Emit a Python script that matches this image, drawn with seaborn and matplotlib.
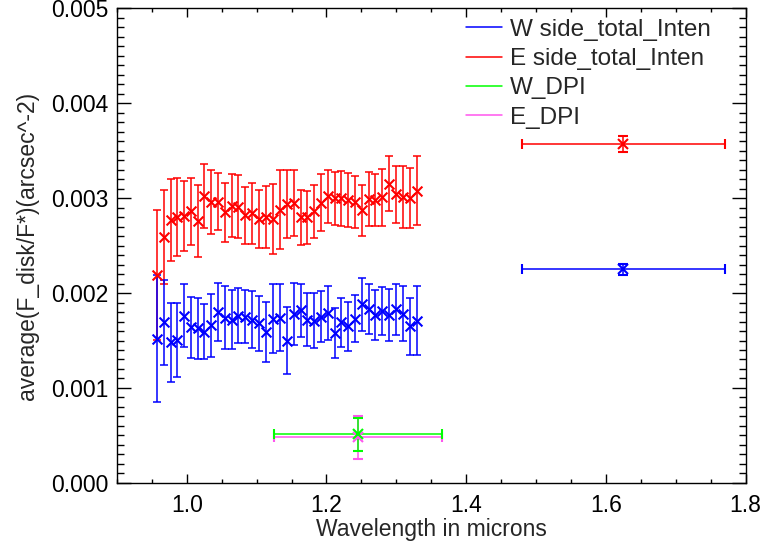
import matplotlib
matplotlib.use("Agg")
import matplotlib.pyplot as plt
from matplotlib.lines import Line2D
from matplotlib.ticker import MultipleLocator, FormatStrFormatter
import pandas as pd
import seaborn as sns

# IFS channels (microns)
wave = [0.957, 0.967, 0.977, 0.986, 0.996, 1.006, 1.016, 1.025, 1.035, 1.045,
        1.055, 1.065, 1.074, 1.084, 1.094, 1.104, 1.114, 1.123, 1.133, 1.143,
        1.153, 1.163, 1.172, 1.182, 1.192, 1.202, 1.212, 1.221, 1.231, 1.241,
        1.251, 1.261, 1.270, 1.280, 1.290, 1.300, 1.310, 1.319, 1.329]

# E side total intensity
e_flux = [0.00219, 0.00259, 0.00277, 0.00280, 0.00281, 0.00286, 0.00276, 0.00302, 0.00296, 0.00296,
          0.00285, 0.00292, 0.00291, 0.00282, 0.00284, 0.00278, 0.00280, 0.00278, 0.00288, 0.00294,
          0.00295, 0.00280, 0.00280, 0.00286, 0.00295, 0.00302, 0.00300, 0.00300, 0.00298, 0.00296,
          0.00287, 0.00299, 0.00298, 0.00301, 0.00315, 0.00304, 0.00301, 0.00300, 0.00308]
e_err = [0.00068, 0.00050, 0.00043, 0.00041, 0.00037, 0.00035, 0.00038, 0.00034, 0.00034, 0.00030,
         0.00031, 0.00033, 0.00033, 0.00030, 0.00032, 0.00031, 0.00033, 0.00037, 0.00042, 0.00036,
         0.00035, 0.00029, 0.00028, 0.00028, 0.00030, 0.00028, 0.00028, 0.00029, 0.00028, 0.00027,
         0.00027, 0.00028, 0.00027, 0.00030, 0.00029, 0.00030, 0.00033, 0.00032, 0.00036]

# W side total intensity
w_flux = [0.00152, 0.00169, 0.00148, 0.00151, 0.00176, 0.00164, 0.00163, 0.00159, 0.00166, 0.00180,
          0.00174, 0.00172, 0.00176, 0.00175, 0.00172, 0.00168, 0.00159, 0.00173, 0.00174, 0.00150,
          0.00178, 0.00182, 0.00172, 0.00171, 0.00175, 0.00179, 0.00158, 0.00169, 0.00165, 0.00173,
          0.00188, 0.00183, 0.00177, 0.00181, 0.00177, 0.00183, 0.00178, 0.00165, 0.00171]
w_err = [0.00067, 0.00045, 0.00042, 0.00039, 0.00033, 0.00032, 0.00032, 0.00029, 0.00033, 0.00031,
         0.00033, 0.00031, 0.00029, 0.00028, 0.00030, 0.00029, 0.00032, 0.00036, 0.00035, 0.00035,
         0.00033, 0.00028, 0.00028, 0.00029, 0.00027, 0.00028, 0.00026, 0.00026, 0.00026, 0.00025,
         0.00028, 0.00026, 0.00026, 0.00025, 0.00027, 0.00027, 0.00029, 0.00030, 0.00036]

# broadband H points
h_wave = [1.625]
h_width = [0.145]
h_e_flux = [0.00357]
h_e_err = [0.00008]
h_w_flux = [0.00225]
h_w_err = [0.00006]

# DPI points
dpi_wave = [1.245]
dpi_width = [0.12]
dpi_w_flux = [0.00051]
dpi_w_err = [0.00017]
dpi_e_flux = [0.00048]
dpi_e_err = [0.000225]

legend_labels = ["W side_total_Inten", "E side_total_Inten", "W_DPI", "E_DPI"]

BLUE = "#0000ff"
RED = "#ff0000"
GREEN = "#00ff00"
MAGENTA = "#ff55ee"

sns.set_theme(style="ticks")
plt.rcParams["font.family"] = ["Liberation Sans", "DejaVu Sans"]
plt.rcParams["font.size"] = 16
plt.rcParams["axes.linewidth"] = 1.0

fig = plt.figure(figsize=(7.64, 5.5), dpi=100)
ax = fig.add_axes([0.153, 0.122, 0.823, 0.863])

spec = pd.DataFrame({"wave": wave, "e_flux": e_flux, "e_err": e_err,
                     "w_flux": w_flux, "w_err": w_err})

# E side, then W side
ax.errorbar(spec["wave"], spec["e_flux"], yerr=spec["e_err"], fmt="none",
            ecolor=RED, elinewidth=1.1, capsize=3, capthick=1.1)
sns.scatterplot(data=spec, x="wave", y="e_flux", marker="x", color=RED,
                s=50, linewidth=1.5, ax=ax, zorder=3)
ax.errorbar(spec["wave"], spec["w_flux"], yerr=spec["w_err"], fmt="none",
            ecolor=BLUE, elinewidth=1.1, capsize=3, capthick=1.1)
sns.scatterplot(data=spec, x="wave", y="w_flux", marker="x", color=BLUE,
                s=50, linewidth=1.5, ax=ax, zorder=3)

# broadband H
ax.errorbar(h_wave, h_e_flux, xerr=h_width, yerr=h_e_err, fmt="x", color=RED,
            ms=6.5, mew=1.5, elinewidth=1.1, capsize=3.5, capthick=1.1)
ax.errorbar(h_wave, h_w_flux, xerr=h_width, yerr=h_w_err, fmt="x", color=BLUE,
            ms=6.5, mew=1.5, elinewidth=1.1, capsize=3.5, capthick=1.1)

# DPI
ax.errorbar(dpi_wave, dpi_e_flux, xerr=dpi_width, yerr=dpi_e_err, fmt="x", color=MAGENTA,
            ms=6.5, mew=1.5, elinewidth=1.1, capsize=3.5, capthick=1.1)
ax.errorbar(dpi_wave, dpi_w_flux, xerr=dpi_width, yerr=dpi_w_err, fmt="x", color=GREEN,
            ms=6.5, mew=1.5, elinewidth=1.1, capsize=3.5, capthick=1.1)

ax.set_xlim(0.9, 1.8)
ax.set_ylim(0.0, 0.005)
ax.xaxis.set_major_locator(MultipleLocator(0.2))
ax.xaxis.set_minor_locator(MultipleLocator(0.05))
ax.yaxis.set_major_locator(MultipleLocator(0.001))
ax.yaxis.set_minor_locator(MultipleLocator(0.0001))
ax.xaxis.set_major_formatter(FormatStrFormatter("%.1f"))
ax.yaxis.set_major_formatter(FormatStrFormatter("%.3f"))
ax.tick_params(axis="both", which="both", direction="in", top=True, right=True,
               color="black", labelcolor="black", labelsize=16.5, width=1.0)
ax.tick_params(axis="x", which="major", length=6.5, pad=8)
ax.tick_params(axis="x", which="minor", length=3.2)
ax.tick_params(axis="y", which="major", length=10, pad=6)
ax.tick_params(axis="y", which="minor", length=5)
for sp in ax.spines.values():
    sp.set_visible(True)
    sp.set_color("black")

ax.set_xlabel("Wavelength in microns", fontsize=16.5, labelpad=1)
ax.set_ylabel("average(F_disk/F*)(arcsec^-2)", fontsize=16.5, labelpad=9)

handles = [Line2D([], [], color=c, lw=1.1) for c in (BLUE, RED, GREEN, MAGENTA)]
ax.legend(handles, legend_labels, loc="upper left", bbox_to_anchor=(0.594, 0.988),
          bbox_transform=fig.transFigure, frameon=False, fontsize=17.5,
          handlelength=1.5, handletextpad=0.3, labelspacing=0.3, borderpad=0)

fig.savefig("out.png", dpi=100)
